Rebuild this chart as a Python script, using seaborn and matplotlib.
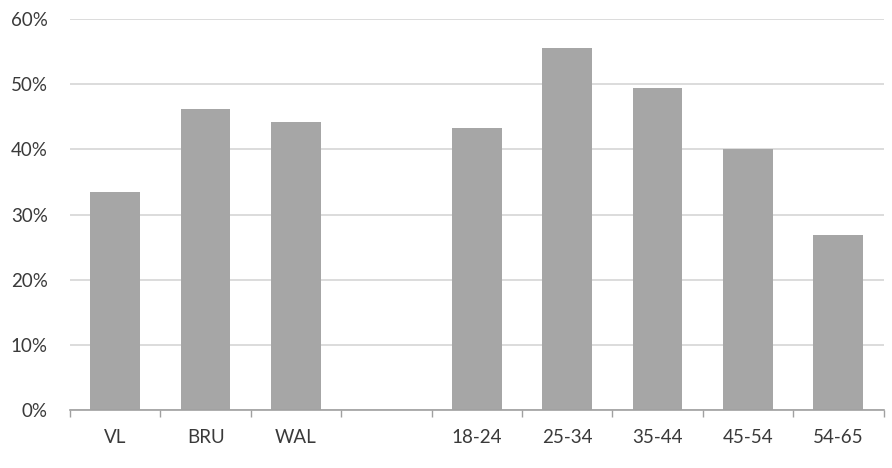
import matplotlib
matplotlib.use("Agg")
import matplotlib.pyplot as plt
import seaborn as sns
import numpy as np
import pandas as pd
from matplotlib.ticker import FixedLocator, FuncFormatter

categories = ["VL", "BRU", "WAL", " ", "18-24", "25-34", "35-44", "45-54", "54-65"]
values = [33.4, 46.2, 44.2, np.nan, 43.3, 55.6, 49.5, 40.0, 26.8]

df = pd.DataFrame({"cat": categories, "val": values})

sns.set_theme(style="white")
plt.rcParams["font.family"] = ["Lato", "DejaVu Sans"]

fig = plt.figure(figsize=(8.92, 4.68), dpi=100)
ax = fig.add_axes([0.0785, 0.124, 0.912, 0.835])

sns.barplot(data=df, x="cat", y="val", order=categories, color="#A6A6A6",
            saturation=1, width=0.55, linewidth=0, ax=ax, zorder=2)

ax.set_ylim(0, 60)
ax.set_xlim(-0.5, len(categories) - 0.5)
ax.set_yticks(np.arange(0, 61, 10))
ax.yaxis.set_major_formatter(FuncFormatter(lambda v, p: f"{int(v)}%"))
ax.grid(axis="y", color="#D9D9D9", linewidth=1.3, zorder=0)
ax.set_axisbelow(True)

for s in ["top", "right", "left"]:
    ax.spines[s].set_visible(False)
ax.spines["bottom"].set_color("#A0A0A0")
ax.spines["bottom"].set_linewidth(1.2)

ax.tick_params(axis="x", which="major", length=0, pad=14, labelsize=13.5, labelcolor="#3A3A3A")
ax.tick_params(axis="y", which="major", length=0, pad=16, labelsize=13.5, labelcolor="#3A3A3A")
ax.xaxis.set_minor_locator(FixedLocator(np.arange(-0.5, len(categories), 1.0)))
ax.tick_params(axis="x", which="minor", bottom=True, length=5, width=1, color="#A0A0A0", direction="out")

ax.set_xlabel("")
ax.set_ylabel("")

fig.savefig("out.png", dpi=100)
